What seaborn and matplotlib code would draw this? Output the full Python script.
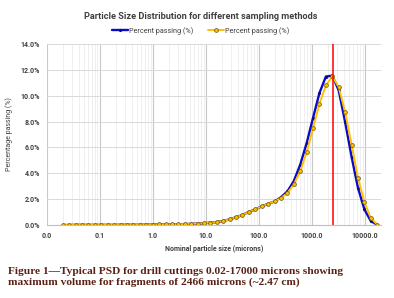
import matplotlib
matplotlib.use("Agg")
import matplotlib.pyplot as plt
import seaborn as sns
import pandas as pd
from matplotlib.ticker import FixedLocator, FuncFormatter, LogLocator, NullFormatter

# ---- data ----
sizes = [0.020, 0.0264, 0.0349, 0.0461, 0.0609, 0.0805, 0.1064, 0.1406, 0.1858, 0.2455,
         0.3243, 0.4285, 0.5662, 0.7482, 0.9886, 1.306, 1.726, 2.280, 3.013, 3.981,
         5.260, 6.950, 9.183, 12.13, 16.03, 21.18, 27.99, 36.98, 48.86, 64.57,
         85.31, 112.7, 148.9, 196.8, 260.0, 343.6, 454.0, 599.8, 792.5, 1047,
         1384, 1828, 2415, 3192, 4217, 5572, 7362, 9727, 12853, 16982]

yellow_pct = [0.00, 0.00, 0.01, 0.01, 0.01, 0.01, 0.01, 0.01, 0.01, 0.02,
              0.02, 0.02, 0.02, 0.03, 0.03, 0.04, 0.05, 0.05, 0.06, 0.07,
              0.09, 0.11, 0.14, 0.18, 0.23, 0.31, 0.44, 0.60, 0.77, 1.02,
              1.20, 1.45, 1.64, 1.82, 2.09, 2.47, 3.15, 4.15, 5.64, 7.50,
              9.40, 10.80, 11.50, 10.66, 8.73, 6.22, 3.65, 1.75, 0.55, 0.02]

blue_pct = [0.00, 0.00, 0.01, 0.01, 0.01, 0.01, 0.01, 0.01, 0.01, 0.02,
            0.02, 0.02, 0.02, 0.03, 0.03, 0.04, 0.05, 0.05, 0.06, 0.07,
            0.09, 0.11, 0.14, 0.18, 0.23, 0.31, 0.44, 0.60, 0.77, 1.02,
            1.20, 1.45, 1.64, 1.82, 2.15, 2.60, 3.40, 4.67, 6.34, 8.30,
            10.23, 11.49, 11.56, 10.41, 7.96, 5.28, 2.87, 1.21, 0.30, 0.02]

peak_size = 2466
series_label = "Percent passing (%)"
title = "Particle Size Distribution for different sampling methods"
xlabel = "Nominal particle size (microns)"
ylabel = "Percentage passing (%)"
caption = ("Figure 1\u2014Typical PSD for drill cuttings 0.02-17000 microns showing\n"
           "maximum volume for fragments of 2466 microns (~2.47 cm)")
xtick_vals = [0.01, 0.1, 1, 10, 100, 1000, 10000]
xtick_labels = ["0.0", "0.1", "1.0", "10.0", "100.0", "1000.0", "10000.0"]

df = pd.DataFrame({"size": sizes, "blue": blue_pct, "yellow": yellow_pct})

sns.set_theme(style="white")
plt.rcParams["font.family"] = ["Roboto", "DejaVu Sans"]

fig = plt.figure(figsize=(3.94, 2.98), dpi=100)
ax = fig.add_axes([0.119, 0.245, 0.848, 0.607])
ax.set_xscale("log")

# grid
ax.set_axisbelow(True)
ax.xaxis.set_minor_locator(LogLocator(base=10, subs=range(2, 10)))
ax.xaxis.set_minor_formatter(NullFormatter())
ax.grid(which="major", axis="x", color="#c8c8c8", lw=0.8)
ax.grid(which="minor", axis="x", color="#ececec", lw=0.6)
ax.grid(which="major", axis="y", color="#d9d9d9", lw=0.7)

sns.lineplot(data=df, x="size", y="blue", ax=ax, color="#0a0ac8", lw=1.7,
             marker="o", markersize=2.3, markeredgewidth=0, markerfacecolor="#0a0a90",
             label=series_label, legend=False, sort=False)
sns.lineplot(data=df, x="size", y="yellow", ax=ax, color="#FFC000", lw=1.4,
             marker="o", markersize=2.7, markeredgewidth=0.5, markerfacecolor="#FFC000",
             markeredgecolor="#6b5000", label=series_label, legend=False, sort=False)

ax.axvline(peak_size, color="#ff0000", lw=1.1)

ax.set_xlim(0.01, 20000)
ax.set_ylim(0, 14)
ax.xaxis.set_major_locator(FixedLocator(xtick_vals))
ax.set_xticklabels(xtick_labels)
ax.yaxis.set_major_locator(FixedLocator([0, 2, 4, 6, 8, 10, 12, 14]))
ax.yaxis.set_major_formatter(FuncFormatter(lambda v, p: f"{v:.1f}%"))
ax.tick_params(axis="both", which="both", length=0, labelsize=5, colors="#404040", pad=5)
for lab in ax.get_xticklabels() + ax.get_yticklabels():
    lab.set_fontweight("bold")

for s in ["top", "right", "left"]:
    ax.spines[s].set_visible(False)
ax.spines["bottom"].set_color("#bfbfbf")
ax.spines["bottom"].set_linewidth(0.8)

ax.set_xlabel(xlabel, fontsize=5, fontweight="bold", color="#404040", labelpad=4)
ax.set_ylabel(ylabel, fontsize=5, color="#404040", labelpad=5)

fig.text(0.51, 0.945, title, ha="center", va="center", fontsize=6.6,
         fontweight="bold", color="#404040")

handles, labels = ax.get_legend_handles_labels()
fig.legend(handles, labels, loc="center", bbox_to_anchor=(0.51, 0.897), ncol=2,
           frameon=False, fontsize=5.2, handlelength=2.2, handletextpad=0.2,
           columnspacing=2.0, labelcolor="#404040")

fig.text(0.02, 0.07, caption, ha="left", va="center", fontsize=8.2,
         fontweight="bold", color="#5a2216", family=["Liberation Serif", "DejaVu Serif"],
         linespacing=1.15)

fig.savefig("out.png", dpi=100)
